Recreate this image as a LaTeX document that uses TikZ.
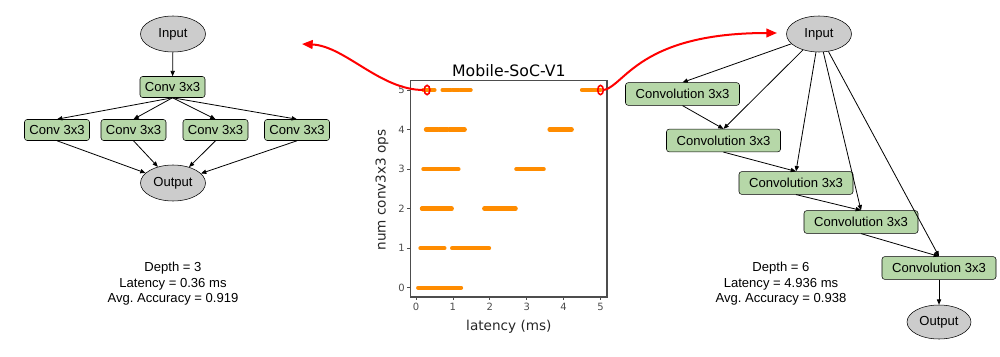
\documentclass[tikz,border=0pt]{standalone}
\usepackage{fontspec}
\setmainfont{Liberation Sans}
\newfontfamily\plotfont{DejaVu Sans}
\usetikzlibrary{positioning,arrows.meta,shapes.geometric}

\definecolor{convgreen}{HTML}{B6D7A8}
\definecolor{termgray}{HTML}{CCCCCC}
\definecolor{latorange}{HTML}{FF8C00}
\definecolor{axisgray}{HTML}{4D4D4D}

\begin{document}
\begin{tikzpicture}[
    x=0.75pt, y=-0.75pt,
    font=\fontsize{9.8}{11.6}\selectfont,
    term/.style={ellipse, draw, fill=termgray, minimum width=48.75pt,
                 minimum height=27pt, inner sep=0pt},
    conv/.style={draw, rounded corners=2pt, fill=convgreen, minimum width=48.75pt,
                 minimum height=15.75pt, inner sep=1pt},
    wideconv/.style={conv, minimum width=85.5pt, minimum height=17pt},
    edge/.style={-{Triangle[length=4pt,width=3.2pt]}, line width=0.6pt},
    stats/.style={align=center},
    hit/.style={ellipse, draw=red, line width=1.2pt, minimum width=4.2pt,
                minimum height=7pt, inner sep=0pt},
    link/.style={red, line width=1.5pt, -{Triangle[length=8pt,width=6.5pt]}},
    lat/.style={latorange, line width=3.2pt, line cap=round},
    frame/.style={axisgray, line width=0.8pt},
    tk/.style={axisgray, line width=0.6pt},
    ticklbl/.style={axisgray, font=\plotfont\fontsize{7.5}{9}\selectfont, inner sep=1.5pt},
    axlbl/.style={black!85, font=\plotfont\fontsize{10.2}{12}\selectfont},
  ]
  \useasboundingbox (0,0) rectangle (1000,357);

  % wide cell: one conv fanning out to four parallel convs
  \node[term] (inL) at (173,34) {Input};
  \node[conv] (cL0) at (172.5,87) {Conv 3x3};
  \node[conv] (cL1) at (57,130) {Conv 3x3};
  \node[conv] (cL2) at (133.5,130) {Conv 3x3};
  \node[conv] (cL3) at (215.5,130) {Conv 3x3};
  \node[conv] (cL4) at (297,130) {Conv 3x3};
  \node[term] (outL) at (173,183) {Output};
  \draw[edge] (inL) -- (cL0);
  \foreach \i in {1,...,4} {
    \draw[edge] (cL0.south) -- (cL\i.north);
    \draw[edge] (cL\i.south) -- (outL);
  }
  \node[stats] (statL) at (173,284) {Depth = 3\\Latency = 0.36 ms\\Avg.\ Accuracy = 0.919};

  % deep cell: chain of five convs, each also fed by the input
  \node[term] (inR) at (819,34) {Input};
  \node[wideconv] (cR1) at (682.5,94) {Convolution 3x3};
  \node[wideconv] (cR2) at (723.5,140.5) {Convolution 3x3};
  \node[wideconv] (cR3) at (796,183) {Convolution 3x3};
  \node[wideconv] (cR4) at (861,222) {Convolution 3x3};
  \node[wideconv] (cR5) at (939,268) {Convolution 3x3};
  \node[term, minimum width=48pt, minimum height=25.5pt] (outR) at (939,322) {Output};
  \foreach \i in {1,...,5}
    \draw[edge] (inR) -- (cR\i.north);
  \foreach \i/\j in {1/2,2/3,3/4,4/5}
    \draw[edge] (cR\i.south) -- (cR\j.north);
  \draw[edge] (cR5) -- (outR);
  \node[stats] (statR) at (781,284) {Depth = 6\\Latency = 4.936 ms\\Avg.\ Accuracy = 0.938};

  % scatter of latency vs. number of conv3x3 ops
  \begin{scope}[shift={(312pt,-215.775pt)}, x=27.675pt, y=29.655pt]
    \draw[frame] (-0.144,-0.235) rectangle (5.176,5.235);
    \foreach \t in {0,...,5} {
      \draw[tk] (\t,-0.235) -- ++(0,-2.6pt) node[ticklbl, below] {\t};
      \draw[tk] (-0.144,\t) -- ++(-2.6pt,0) node[ticklbl, left] {\t};
    }
    \foreach \y/\a/\b in {5/0.2/0.5, 5/0.72/0.95, 5/1.0/1.15, 5/1.2/1.48, 5/4.5/5.0,
                          4/0.27/0.6, 4/0.64/0.86, 4/0.9/1.32, 4/3.62/4.22,
                          3/0.2/0.7, 3/0.73/1.15, 3/2.72/3.46,
                          2/0.16/0.97, 2/1.85/2.7,
                          1/0.12/0.77, 1/0.98/1.98,
                          0/0.06/1.22}
      \draw[lat] (\a,\y) -- (\b,\y);
    \node[hit] (hitL) at (0.3,5) {};
    \node[hit] (hitR) at (5,5) {};
    \node[axlbl, black, font=\plotfont\fontsize{11.8}{13}\selectfont, anchor=base] (title) at (2.516,5.354) {Mobile-SoC-V1};
    \node[axlbl, anchor=base] (xlbl) at (2.516,-1.07) {latency (ms)};
    \node[axlbl, rotate=90] (ylbl) at (-0.921,2.47) {num conv3x3 ops};
  \end{scope}

  % pointers from the marked extremes to their cells
  \coordinate (tipL) at (302,44);
  \coordinate (tipR) at (777,33);
  \draw[link] (hitL.west) .. controls (380,90) and (345,46) .. (tipL);
  \draw[link] (hitR.east) .. controls (625,85) and (640,33) .. (tipR);
\end{tikzpicture}
\end{document}
